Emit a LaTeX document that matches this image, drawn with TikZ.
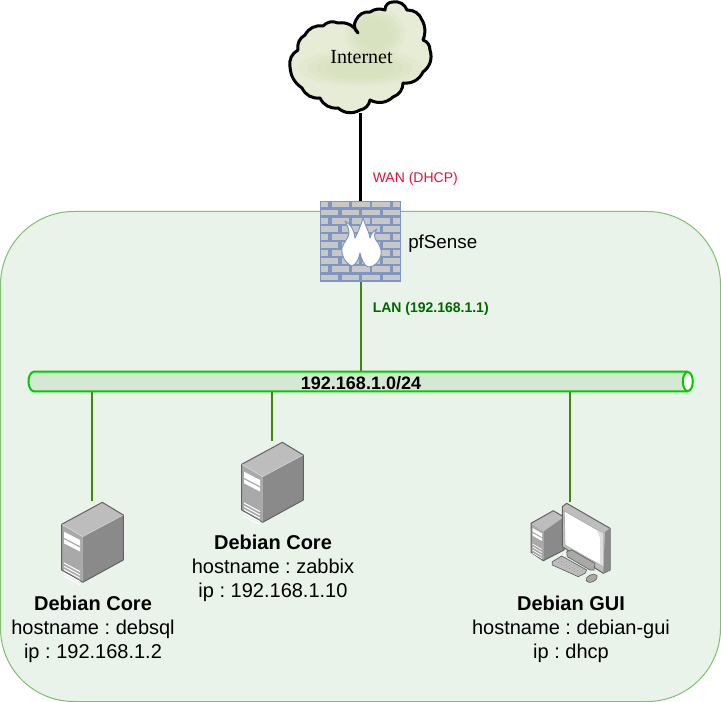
\documentclass[tikz,border=0pt]{standalone}
\usepackage{fontspec}
\setmainfont{Liberation Sans}
\newfontfamily\cloudfont{Liberation Serif}
\usetikzlibrary{calc}
\definecolor{zonefill}{HTML}{E9F3E9}
\definecolor{zoneline}{HTML}{7FBF6F}
\definecolor{busfill}{HTML}{D5E8D4}
\definecolor{busline}{HTML}{00CC00}
\definecolor{linkgreen}{HTML}{3F880C}
\definecolor{brickline}{HTML}{7F96C4}
\definecolor{brickfill}{HTML}{C8C8C8}
\definecolor{cloudfill}{HTML}{E6ECD6}
\definecolor{cloudblob}{HTML}{CCD8AC}
\definecolor{srvtop}{HTML}{BDBDBD}
\definecolor{srvfront}{HTML}{A9A9A9}
\definecolor{srvside}{HTML}{8A8A8A}
\definecolor{srvedge}{HTML}{626262}
\newcommand{\cloudpath}{(290,67) to[bend right=35] (298,50) to[bend right=35] (305,35) to[bend right=35] (323,26) to[bend right=35] (338,23) to[bend right=35] (358,33) to[bend right=40] (356,20) to[bend right=35] (370,12) to[bend right=25] (385,10) to[bend right=50] (393,2) to[bend right=40] (407,10) to[bend right=35] (422,20) to[bend right=25] (423,40) to[bend right=35] (430,50) to[bend right=35] (423,72) to[bend right=35] (403,83) to[bend right=35] (393,97) to[bend right=35] (370,100) to[bend right=35] (360,110) to[bend right=35] (338,108) to[bend right=35] (320,98) to[bend right=35] (302,88) to[bend right=25] (290,67) -- cycle}
\tikzset{
	iconbox/.style={inner sep=0pt,minimum width=47.25pt,minimum height=60.75pt},
	hostlabel/.style={align=center,font=\frenchspacing\fontsize{15}{18}\selectfont},
	wanlink/.style={line width=2.25pt,black},
	lanlink/.style={line width=1.5pt,linkgreen},
	srvpart/.style={draw=srvedge,line width=0.75pt,line join=round},
	pics/server/.style={code={
		\fill[srvtop] (0.7,22.3) -- (41.3,0.3) -- (62.3,13) -- (21.7,34.7) -- cycle;
		\fill[srvfront] (0.7,22.3) -- (21.7,34.7) -- (21.7,80.3) -- (0.7,68) -- cycle;
		\fill[srvside] (21.7,34.7) -- (62.3,13) -- (62.3,58) -- (21.7,80.3) -- cycle;
		\draw[srvpart] (0.7,22.3) -- (41.3,0.3) -- (62.3,13) -- (62.3,58) -- (21.7,80.3) -- (0.7,68) -- cycle;
		\draw[white,opacity=0.5,line width=0.4pt] (0.7,22.3) -- (21.7,34.7) -- (62.3,13);
		\fill[white] (3,29.7) -- (19,38) -- (19,44) -- (3,35.7) -- cycle;
		\fill[white] (3,37.3) -- (19,45.7) -- (19,49.5) -- (3,41.3) -- cycle;
		\foreach \i in {0,...,4}
			\draw[white,line width=0.75pt] (3,61+3.3*\i) -- (19,69.7+3.3*\i);
	}},
	pics/desktop/.style={code={
		% tower
		\fill[srvtop] (0,20.3) -- (22.3,7.7) -- (33,14) -- (12.3,28.7) -- cycle;
		\fill[srvfront] (0,20.3) -- (12.3,28.7) -- (12.3,57.7) -- (0,49.3) -- cycle;
		\fill[srvside] (12.3,28.7) -- (33,14) -- (33,47) -- (12.3,57.7) -- cycle;
		\draw[srvpart] (0,20.3) -- (22.3,7.7) -- (33,14) -- (33,47) -- (12.3,57.7) -- (0,49.3) -- cycle;
		\fill[white] (1.5,25) -- (11,30.5) -- (11,34) -- (1.5,28.5) -- cycle;
		\fill[white] (1.5,30) -- (11,35.5) -- (11,38) -- (1.5,32.5) -- cycle;
		\foreach \i in {0,...,3}
			\draw[white,line width=0.5pt] (1.5,41+3*\i) -- (11,46.5+3*\i);
		% monitor
		\fill[srvtop,draw=srvedge,line width=0.75pt,line join=round] (31.3,3.7) -- (35.7,0.3) -- (79,25.3) -- (79,67) -- (72.3,70.3) -- (31.3,43.7) -- cycle;
		\fill[srvside] (74,29) -- (79,25.3) -- (79,67) -- (72.3,70.3) -- cycle;
		\fill[white,draw=srvfront,line width=0.5pt] (33.3,8) -- (72.3,30.3) -- (72.3,63.7) -- (34,42) -- cycle;
		\fill[srvtop!50] (66,27) -- (72,30.3) -- (72,63) -- (69,61) -- (69,35) -- cycle;
		% stand
		\fill[srvfront,draw=srvedge,line width=0.5pt,line join=round] (35.7,48.7) -- (40.7,47) -- (64,60.3) -- (63,67) -- (59,67) -- (36.3,53.7) -- cycle;
		% keyboard
		\fill[srvtop,draw=srvedge,line width=0.5pt,line join=round] (21.3,58.7) -- (30.7,53) -- (55.7,67) -- (54,70.3) -- (47.3,73.7) -- (21.3,62) -- cycle;
		\foreach \i in {0,...,3}
			\draw[srvedge,line width=0.3pt,dotted] (25+2.5*\i,58-1.3*\i) -- (48+2.5*\i,71-1.3*\i);
		% mouse
		\fill[srvfront,draw=srvedge,line width=0.5pt] (60.7,75.3) ellipse [x radius=6,y radius=3.5,rotate=-25];
	}}
}
\begin{document}
\begin{tikzpicture}[x=0.75pt,y=0.75pt,yscale=-1,xscale=1]
	\useasboundingbox (0,0) rectangle (721,702);

	%Shape: Rounded Rectangle [id:zone]
	\draw [draw=zoneline,fill=zonefill,line width=0.75pt,rounded corners=55pt] (0.5,211.5) rectangle (720.5,701.5);

	%Shape: Cloud [id:internet]
	\fill [cloudfill] \cloudpath;
	\begin{scope}
		\clip \cloudpath;
		\foreach \s in {1,0.85,0.7,0.55}{
			\fill [cloudblob,opacity=0.15] (375,34) ellipse [x radius=30*\s,y radius=26*\s];
			\fill [cloudblob,opacity=0.15] (360,68) ellipse [x radius=62*\s,y radius=18*\s];
		}
	\end{scope}
	\draw [line width=2.25pt,black,line join=round] \cloudpath;

	% Nodes
	\node (internet) [minimum width=105pt,minimum height=82.5pt,inner sep=0pt,font=\cloudfont\fontsize{15}{18}\selectfont] at (361.5,57.5) {Internet};
	\node (pfsense) [iconbox,minimum height=60.75pt,minimum width=60.75pt] at (360.5,241.5) {};
	\node (lanbus) [inner sep=0pt,minimum width=498.75pt,minimum height=14.25pt] at (360.5,381.5) {};
	\node (debsql) [iconbox] at (92,542) {};
	\node (zabbix) [iconbox] at (272,482) {};
	\node (debgui) [iconbox,minimum width=60pt,minimum height=61.5pt] at (570,543) {};

	%Straight Lines
	\draw [wanlink] (internet.south -| pfsense.north) -- (pfsense.north);
	\draw [lanlink] (pfsense.south) -- (lanbus.north);
	\draw [lanlink] (lanbus.south -| debsql.north) -- (debsql.north);
	\draw [lanlink] (lanbus.south -| zabbix.north) -- (zabbix.north);
	\draw [lanlink] (lanbus.south -| debgui.north) -- (debgui.north);

	%Shape: Bus
	\draw [busline,fill=busfill,line width=1.5pt] ($(lanbus.north east)+(-5.5,0)$) -- ($(lanbus.north west)+(6,0)$) .. controls ($(lanbus.north west)+(-1,1)$) and ($(lanbus.south west)+(-1,-1)$) .. ($(lanbus.south west)+(6,0)$) -- ($(lanbus.south east)+(-5.5,0)$);
	\draw [busline,fill=white,line width=1.5pt] ($(lanbus.east)+(-5.5,0)$) ellipse [x radius=5,y radius=9.5];

	%Shape: Firewall
	\fill [brickline] (pfsense.north west) rectangle (pfsense.south east);
	\foreach \r in {0,2,4,6,8}{
		\foreach \a/\b in {321/328,332/349,352/370,372/390,393/400}
			\fill [brickfill] (\a,201.7+8.1*\r) rectangle (\b,207.4+8.1*\r);
	}
	\foreach \r in {1,3,5,7,9}{
		\foreach \a/\b in {321/338,342/359,362/380,383/400}
			\fill [brickfill] (\a,201.7+8.1*\r) rectangle (\b,207.4+8.1*\r);
	}
	\draw [fill=white,draw=brickline,line width=0.75pt,line join=round] (352,266) .. controls (345,263) and (341,256) .. (342,248) .. controls (343,243) and (349,238) .. (349,233) .. controls (349,229) and (347,225) .. (345,221) .. controls (350,224) and (354,229) .. (355,238) .. controls (358,232) and (361,225) .. (363,218) .. controls (365,225) and (369,231) .. (370,238) .. controls (371,234) and (373,231) .. (377,229) .. controls (374,233) and (374,237) .. (376,240) .. controls (380,245) and (382,250) .. (381,255) .. controls (380,261) and (375,267) .. (368,267) .. controls (364,266) and (361,258) .. (360,253) .. controls (359,258) and (357,264) .. (352,266) -- cycle;

	%Shape: Computers
	\pic [transform shape] at (61,502) {server};
	\pic [transform shape] at (241,442) {server};
	\pic [transform shape] at (531,503) {desktop};

	% Text Node
	\node (wanlabel) [anchor=west,inner sep=0pt,font=\fontsize{10.5}{12}\selectfont,color={rgb,255:red,220;green,20;blue,60}] at (372.5,179) {WAN (DHCP)};
	% Text Node
	\node (lanlabel) [anchor=west,inner sep=0pt,font=\bfseries\fontsize{10.5}{12}\selectfont,color={rgb,255:red,0;green,102;blue,0}] at (372.5,309) {LAN (192.168.1.1)};
	% Text Node
	\node (pflabel) [anchor=west,inner sep=0pt,font=\fontsize{14.1}{16}\selectfont] at (408,243.5) {pfSense};
	% Text Node
	\node (buslabel) [inner sep=0pt,font=\bfseries\fontsize{13.5}{16}\selectfont] at (361,383) {192.168.1.0/24};
	% Text Node
	\node (debsqllabel) [hostlabel] at (93,629) {\textbf{Debian Core}\\hostname : debsql\\ip : 192.168.1.2};
	% Text Node
	\node (zabbixlabel) [hostlabel] at (273,568) {\textbf{Debian Core}\\hostname : zabbix\\ip : 192.168.1.10};
	% Text Node
	\node (debguilabel) [hostlabel] at (571,629) {\textbf{Debian GUI}\\hostname : debian-gui\\ip : dhcp};

\end{tikzpicture}
\end{document}
